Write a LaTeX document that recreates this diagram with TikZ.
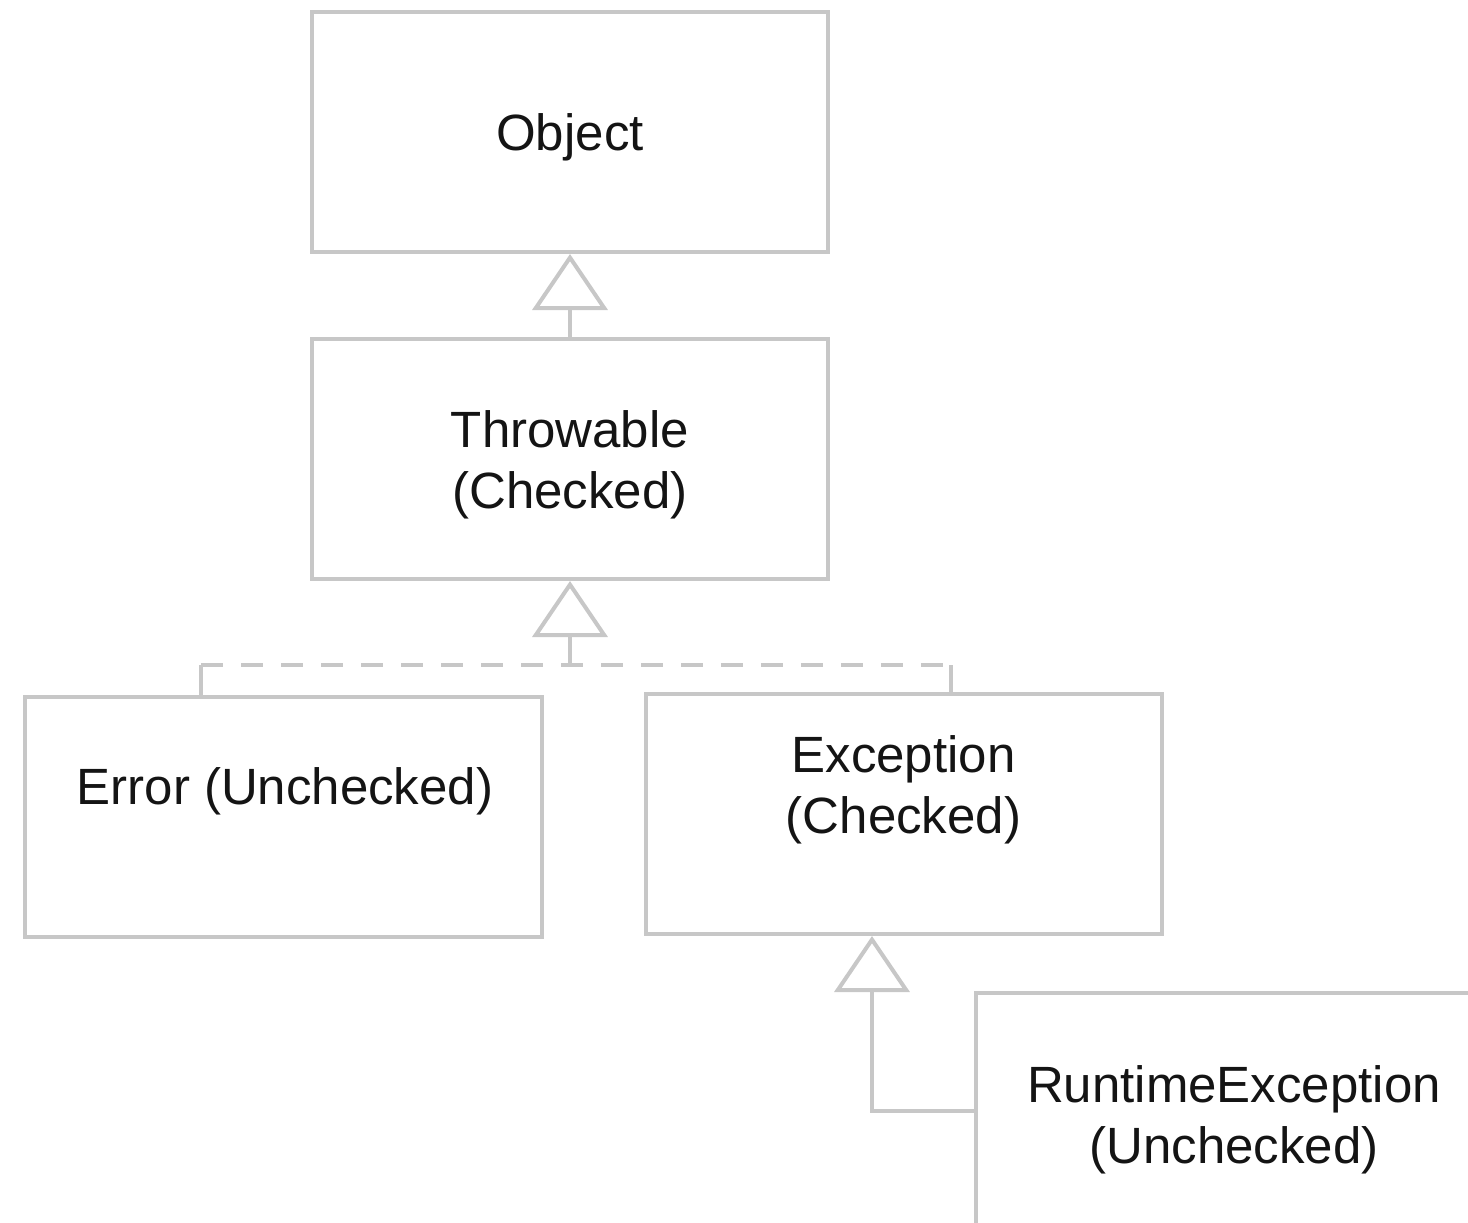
\documentclass[tikz,border=0pt]{standalone}
\usepackage{fontspec}
\setmainfont{Liberation Sans}
\usetikzlibrary{arrows.meta}

\newlength{\du}
\setlength{\du}{0.01cm}
\definecolor{dialinecolor}{rgb}{0.780000, 0.780000, 0.780000}
\definecolor{diatextcolor}{rgb}{0.080000, 0.080000, 0.080000}

\tikzset{
  classbox/.style={draw=dialinecolor, line width=4\du, minimum width=516\du,
    minimum height=240\du, inner sep=0pt},
  classtext/.style={align=center, text=diatextcolor,
    font=\fontsize{14.5pt}{17.4pt}\selectfont},
  link/.style={draw=dialinecolor, line width=4\du},
  dashlink/.style={link, dash pattern=on 22\du off 18\du},
  gen/.style={link, -{Triangle[open, length=0.56cm, width=0.75cm]}}
}

\begin{document}
\begin{tikzpicture}
\pgftransformxscale{1.000000}
\pgftransformyscale{-1.000000}
\useasboundingbox (0\du,0\du) rectangle (1468\du,1223\du);
\clip (0\du,0\du) rectangle (1468\du,1223\du);
% boxes
\node[classbox] (object) at (570\du,132\du) {};
\node[classbox] (throwable) at (570\du,459\du) {};
\node[classbox] (error) at (283.5\du,817\du) {};
\node[classbox] (exception) at (903.5\du,814\du) {};
\node[classbox] (runtime) at (1233.5\du,1113\du) {};
% texts
\node[classtext] (objecttext) at (570\du,137\du) {Object};
\node[classtext] (throwabletext) at (570\du,465\du) {Throwable\\(Checked)};
\node[classtext] (errortext) at (285\du,791\du) {Error (Unchecked)};
\node[classtext] (exceptiontext) at (903.5\du,790\du) {Exception\\(Checked)};
\node[classtext] (runtimetext) at (1234\du,1120\du) {RuntimeException\\(Unchecked)};
% joints
\coordinate (fork) at (570\du,665\du);
\coordinate (errorup) at (201\du,665\du);
\coordinate (exceptionup) at (951\du,665\du);
\coordinate (runtimebend) at (872\du,1111\du);
% generalisations
\draw[gen] (throwable.north) -- (object.south);
\draw[gen] (fork) -- (throwable.south);
\draw[dashlink] (errorup) -- (exceptionup);
\draw[link] (error.north -| errorup) -- (errorup);
\draw[link] (exception.north -| exceptionup) -- (exceptionup);
\draw[gen] (runtime.west |- runtimebend) -- (runtimebend) -- (runtimebend |- exception.south);
\end{tikzpicture}
\end{document}
